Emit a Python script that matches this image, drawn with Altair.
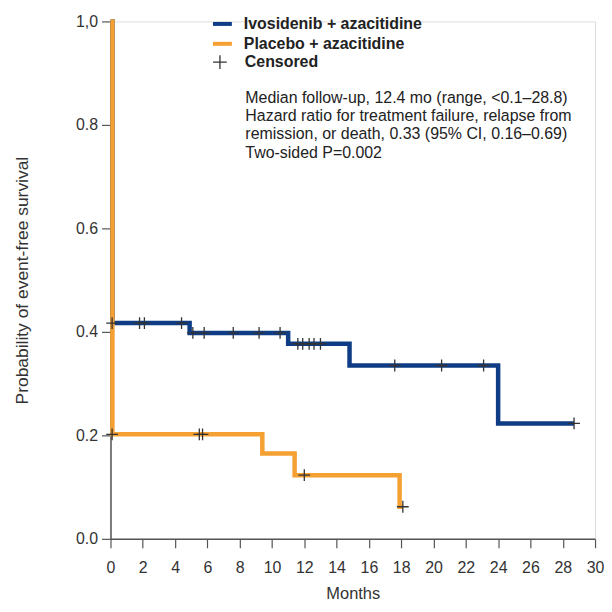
import altair as alt
import pandas as pd

# Kaplan-Meier step data (months, survival probability)
ivo_t = [0.0, 0.12, 4.9, 11.0, 14.8, 24.0, 28.7]
ivo_s = [1.0, 0.417, 0.398, 0.377, 0.335, 0.223, 0.223]
pla_t = [0.0, 0.12, 9.4, 11.4, 17.9, 18.1]
pla_s = [1.0, 0.202, 0.165, 0.123, 0.062, 0.062]

# Censored observations
ivo_cens_t = [0.1, 1.8, 2.1, 4.4, 5.1, 5.8, 7.6, 9.2, 10.5, 11.6, 11.9, 12.3, 12.6, 13.0, 17.6, 20.5, 23.1, 28.7]
ivo_cens_s = [0.417, 0.417, 0.417, 0.417, 0.398, 0.398, 0.398, 0.398, 0.398, 0.377, 0.377, 0.377, 0.377, 0.377, 0.335, 0.335, 0.335, 0.223]
pla_cens_t = [0.1, 5.5, 5.7, 12.0, 18.1]
pla_cens_s = [0.202, 0.202, 0.202, 0.123, 0.062]

series_names = ["Ivosidenib + azacitidine", "Placebo + azacitidine"]
series_colors = ["#0f3d85", "#f5a033"]
censor_label = "Censored"

note_lines = [
    "Median follow-up, 12.4 mo (range, <0.1\u201328.8)",
    "Hazard ratio for treatment failure, relapse from",
    "remission, or death, 0.33 (95% CI, 0.16\u20130.69)",
    "Two-sided P=0.002",
]
note_x = 8.35
note_y = 0.868

x_ticks = list(range(0, 31, 2))
y_ticks = [0.0, 0.2, 0.4, 0.6, 0.8, 1.0]

FONT = "Liberation Sans"

steps = pd.DataFrame(
    {"t": ivo_t + pla_t,
     "s": ivo_s + pla_s,
     "series": [series_names[0]] * len(ivo_t) + [series_names[1]] * len(pla_t),
     "order": list(range(len(ivo_t))) + list(range(len(pla_t)))}
)
cens = pd.DataFrame(
    {"t": ivo_cens_t + pla_cens_t,
     "s": ivo_cens_s + pla_cens_s,
     "kind": [censor_label] * (len(ivo_cens_t) + len(pla_cens_t))}
)

xscale = alt.Scale(domain=[0, 30], nice=False, zero=True)
yscale = alt.Scale(domain=[0, 1], nice=False)

xaxis = alt.Axis(
    title="Months", values=x_ticks, grid=False, tickSize=9, labelPadding=12,
    labelFontSize=16, titleFontSize=16.5, titleFontWeight="normal", titlePadding=10,
    labelOverlap=False, labelBound=False, labelFlush=False,
    domainColor="#555", tickColor="#555", domainWidth=1.5, tickWidth=1.2,
    labelColor="#333", titleColor="#333", labelFont=FONT, titleFont=FONT,
)
yaxis = alt.Axis(
    title="Probability of event-free survival", values=y_ticks, grid=False,
    tickSize=9, labelPadding=4, labelFontSize=16, titleFontSize=17.5,
    titleFontWeight="normal", titlePadding=44,
    labelOverlap=False, labelBound=False, labelFlush=False,
    labelExpr="datum.value == 1 ? '1,0' : format(datum.value, '.1f')",
    domainColor="#555", tickColor="#555", domainWidth=1.5, tickWidth=1.2,
    labelColor="#333", titleColor="#333", labelFont=FONT, titleFont=FONT,
)

color = alt.Color(
    "series:N",
    scale=alt.Scale(domain=series_names, range=series_colors),
    sort=series_names,
    legend=alt.Legend(
        title=None, orient="none", legendX=101, legendY=-9,
        symbolType="stroke", symbolStrokeWidth=4, symbolSize=361,
        labelFontSize=16, labelFontWeight="bold", labelFont=FONT,
        labelColor="#222", rowPadding=0, labelOffset=10, labelLimit=0,
    ),
)

lines = (
    alt.Chart(steps)
    .mark_line(interpolate="step-after", strokeWidth=4.5)
    .encode(
        x=alt.X("t:Q", scale=xscale, axis=xaxis),
        y=alt.Y("s:Q", scale=yscale, axis=yaxis),
        color=color,
        order="order:Q",
        detail="series:N",
    )
)

cross_path = "M-1,0H1M0,-1V1"
points = (
    alt.Chart(cens)
    .mark_point(filled=False, color="#333", strokeWidth=1.3, size=140, opacity=1)
    .encode(
        x=alt.X("t:Q", scale=xscale, axis=xaxis),
        y=alt.Y("s:Q", scale=yscale, axis=yaxis),
        shape=alt.Shape(
            "kind:N",
            scale=alt.Scale(domain=[censor_label], range=[cross_path]),
            legend=alt.Legend(
                title=None, orient="none", legendX=102, legendY=33,
                symbolSize=190, symbolStrokeColor="#333", symbolStrokeWidth=1.3,
                symbolFillColor="transparent",
                labelFontSize=16, labelFontWeight="bold", labelFont=FONT,
                labelColor="#222", labelOffset=17, labelLimit=0,
            ),
        ),
    )
)

note = (
    alt.Chart()
    .mark_text(
        text=note_lines, align="left", baseline="top", fontSize=16,
        lineHeight=18.5, font=FONT, color="#222",
    )
    .encode(
        x=alt.X(datum=note_x, scale=xscale, axis=xaxis),
        y=alt.Y(datum=note_y, scale=yscale, axis=yaxis),
    )
)

chart = (
    alt.layer(lines, points, note)
    .properties(width=487, height=520, padding={"left": 5, "top": 3, "right": 0, "bottom": 0})
    .configure_view(strokeWidth=0)
    .configure_axis(labelOverlap=False)
    .configure(background="white")
)

chart.save("out.html", embed_options={"renderer": "svg", "actions": False})
